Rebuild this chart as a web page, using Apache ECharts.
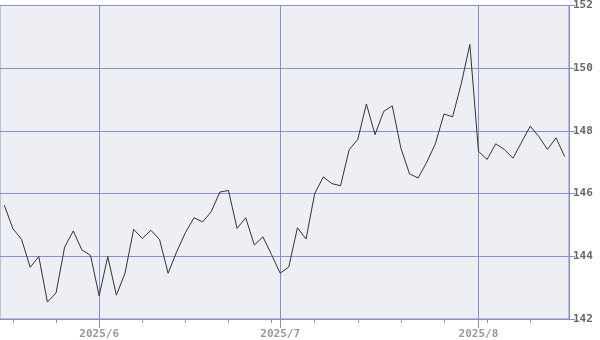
<!DOCTYPE html>
<html>
<head>
<meta charset="utf-8">
<script src="https://cdn.jsdelivr.net/npm/echarts@6/dist/echarts.min.js"></script>
<style>html,body{margin:0;padding:0;background:#fff;}#c{width:600px;height:340px;}</style>
</head>
<body>
<div id="c"></div>
<script>
var dates = [
  '2025/5/16',
  '2025/5/19','2025/5/20','2025/5/21','2025/5/22','2025/5/23',
  '2025/5/26','2025/5/27','2025/5/28','2025/5/29','2025/5/30',
  '2025/6/2','2025/6/3','2025/6/4','2025/6/5','2025/6/6',
  '2025/6/9','2025/6/10','2025/6/11','2025/6/12','2025/6/13',
  '2025/6/16','2025/6/17','2025/6/18','2025/6/19','2025/6/20',
  '2025/6/23','2025/6/24','2025/6/25','2025/6/26','2025/6/27',
  '2025/6/30','2025/7/1','2025/7/2','2025/7/3','2025/7/4',
  '2025/7/7','2025/7/8','2025/7/9','2025/7/10','2025/7/11',
  '2025/7/14','2025/7/15','2025/7/16','2025/7/17','2025/7/18',
  '2025/7/21','2025/7/22','2025/7/23','2025/7/24','2025/7/25',
  '2025/7/28','2025/7/29','2025/7/30','2025/7/31','2025/8/1',
  '2025/8/4','2025/8/5','2025/8/6','2025/8/7','2025/8/8',
  '2025/8/11','2025/8/12','2025/8/13','2025/8/14','2025/8/15'
];
var rates = [
  145.63,
  144.88,144.54,143.65,143.99,142.54,
  142.83,144.30,144.81,144.20,144.03,
  142.74,143.99,142.76,143.46,144.86,
  144.57,144.83,144.54,143.46,144.15,
  144.75,145.23,145.10,145.42,146.05,
  146.10,144.89,145.23,144.36,144.62,
  144.05,143.46,143.66,144.91,144.55,
  146.00,146.53,146.32,146.25,147.40,
  147.73,148.86,147.88,148.62,148.80,
  147.45,146.63,146.50,147.00,147.59,
  148.54,148.45,149.50,150.76,147.35,
  147.09,147.59,147.41,147.13,147.64,
  148.15,147.82,147.41,147.78,147.18
];
var yMin = 142, yMax = 152, yStep = 2;

function parts(s){ var p = s.split('/'); return [+p[0], +p[1], +p[2]]; }
function isMonday(i){ var p = parts(dates[i]); return new Date(p[0], p[1]-1, p[2]).getDay() === 1; }
function isMonthStart(i){ return i > 0 && parts(dates[i])[1] !== parts(dates[i-1])[1]; }
function monthLabel(v){ var p = parts(v); return p[0] + '/' + p[1]; }

var lineCol = '#8890c0';
var chart = echarts.init(document.getElementById('c'), null, {renderer:'canvas'});
chart.setOption({
  animation: false,
  grid: {left: 0, right: 31, top: 4, bottom: 21, show: true, backgroundColor: '#eeeef5', borderColor: lineCol, borderWidth: 1},
  xAxis: [{
    type: 'category', data: dates, boundaryGap: true, position: 'bottom',
    axisLine: {show: true, lineStyle: {color: lineCol, width: 1}},
    axisTick: {show: true, alignWithLabel: true, length: 4, interval: function(i){ return isMonday(i); }, lineStyle: {color: lineCol}},
    axisLabel: {show: false},
    splitLine: {show: false}
  }, {
    type: 'category', data: dates, boundaryGap: true, position: 'bottom', gridIndex: 0,
    axisLine: {show: false},
    axisTick: {show: true, alignWithLabel: true, length: 9, interval: function(i){ return isMonthStart(i); }, lineStyle: {color: lineCol}},
    axisLabel: {show: true, interval: function(i){ return isMonthStart(i); }, formatter: monthLabel, margin: 10,
      color: '#999', fontFamily: 'DejaVu Sans Mono', fontWeight: 'bold', fontSize: 11},
    splitLine: {show: true, alignWithLabel: true, interval: function(i){ return isMonthStart(i); }, lineStyle: {color: lineCol, width: 1}}
  }],
  yAxis: {
    type: 'value', position: 'right', min: yMin, max: yMax, interval: yStep,
    axisLine: {show: true, lineStyle: {color: lineCol}},
    axisTick: {show: true, length: 6, lineStyle: {color: lineCol}},
    axisLabel: {margin: 4, color: '#666', fontFamily: 'DejaVu Sans Mono', fontWeight: 'bold', fontSize: 11},
    splitLine: {show: true, lineStyle: {color: lineCol, width: 1}}
  },
  series: [{
    type: 'line', data: rates, xAxisIndex: 0, symbol: 'none', showSymbol: false,
    lineStyle: {color: '#333', width: 1}, silent: true
  }]
});
</script>
</body>
</html>
